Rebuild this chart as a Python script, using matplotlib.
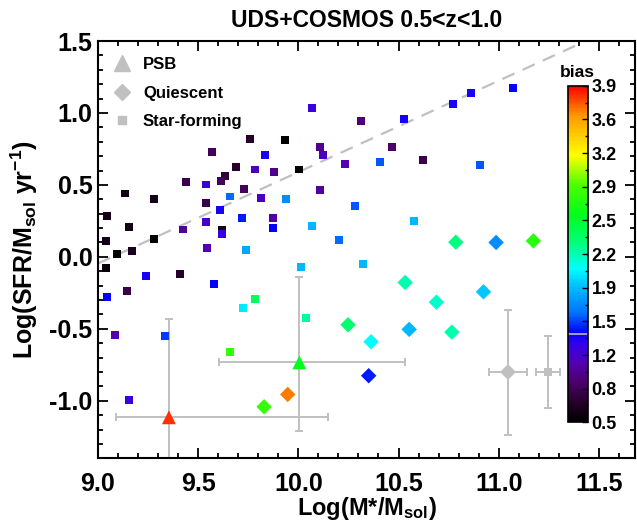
import numpy as np
import matplotlib
matplotlib.use('Agg')
import matplotlib.pyplot as plt
from matplotlib.colors import LinearSegmentedColormap, Normalize
from matplotlib.lines import Line2D
from matplotlib.ticker import MultipleLocator, FixedLocator

plt.rcParams['font.family'] = ['Liberation Sans', 'DejaVu Sans']
plt.rcParams['font.weight'] = 'bold'
plt.rcParams['mathtext.fontset'] = 'custom'
plt.rcParams['mathtext.rm'] = 'Liberation Sans:bold'
plt.rcParams['mathtext.default'] = 'rm'

# star-forming galaxies (squares)
sf_mass = [10.067, 9.759, 9.934, 10.108, 10.122, 9.567, 9.834, 9.689, 10.003, 9.784,
           9.879, 9.634, 9.614, 9.438, 9.538, 9.135, 9.280, 9.729, 10.108, 9.659,
           9.812, 9.939, 9.538, 9.609, 9.043, 9.717, 9.875, 10.067, 9.155, 9.538,
           9.426, 9.617, 9.617, 9.875, 9.040, 9.093, 9.168, 9.280, 9.040, 9.240,
           9.409, 9.543, 10.205, 9.739, 10.012, 9.578, 9.143, 9.043, 9.784, 9.725,
           10.038, 9.085, 9.336, 9.659, 9.155, 10.323, 10.313, 10.466, 10.233, 10.408,
           10.623, 10.528, 10.772, 10.862, 11.070, 10.906, 10.283, 10.578]
sf_sfr = [1.035, 0.817, 0.810, 0.764, 0.708, 0.729, 0.706, 0.625, 0.607, 0.607,
          0.590, 0.563, 0.528, 0.521, 0.503, 0.440, 0.405, 0.470, 0.463, 0.419,
          0.410, 0.405, 0.375, 0.324, 0.285, 0.271, 0.271, 0.215, 0.208, 0.243,
          0.190, 0.190, 0.160, 0.201, 0.111, 0.017, 0.042, 0.123, -0.076, -0.134,
          -0.118, 0.063, 0.116, 0.047, -0.069, -0.190, -0.236, -0.278, -0.294, -0.354,
          -0.424, -0.542, -0.549, -0.660, -0.995, -0.049, 0.944, 0.764, 0.646, 0.658,
          0.672, 0.956, 1.060, 1.139, 1.174, 0.637, 0.352, 0.250]
sf_bias = [1.25, 0.70, 0.55, 1.00, 1.15, 0.85, 1.35, 0.70, 0.50, 1.15,
           1.00, 0.75, 0.85, 0.80, 1.25, 0.60, 0.60, 0.85, 1.05, 1.60,
           1.15, 1.70, 0.80, 1.35, 0.60, 1.45, 1.05, 1.85, 0.60, 1.20,
           1.05, 0.60, 1.25, 1.40, 0.60, 0.50, 0.65, 0.50, 0.55, 1.35,
           0.70, 1.10, 1.60, 1.80, 1.85, 1.40, 0.80, 1.40, 2.40, 2.00,
           2.25, 1.10, 1.50, 2.80, 1.25, 1.85, 0.95, 0.90, 1.10, 1.55,
           0.80, 1.35, 1.35, 1.35, 1.40, 1.55, 1.55, 1.85]

# quiescent galaxies (diamonds)
q_mass = [9.829, 9.947, 10.786, 10.987, 11.173, 10.533, 10.689, 10.924, 10.248, 10.363, 10.553, 10.766, 10.351]
q_sfr = [-1.042, -0.956, 0.102, 0.100, 0.111, -0.178, -0.315, -0.243, -0.472, -0.590, -0.504, -0.523, -0.826]
q_bias = [2.80, 3.65, 2.30, 1.70, 2.75, 2.20, 2.15, 1.90, 2.35, 2.05, 1.85, 2.20, 1.45]

# post-starburst galaxies (triangles) with errors
psb_mass = [9.354, 10.005]
psb_sfr = [-1.115, -0.733]
psb_bias = [3.80, 2.60]
psb_xerr = [[0.264, 0.402], [0.796, 0.528]]
psb_yerr = [[0.682, 0.477], [0.682, 0.594]]

# typical uncertainties: quiescent, star-forming
typ_mass = [11.045, 11.245]
typ_sfr = [-0.803, -0.800]
typ_xerr = [0.094, 0.061]
typ_yerr = [0.434, 0.248]

# main-sequence line
ms_slope, ms_zero = 0.635, -0.046
ms_range = [9.0, 11.4]

bias_marker = 1.39

cmap_vals = [0.5, 0.7, 0.9, 1.1, 1.3, 1.4, 1.6, 1.9, 2.05, 2.3, 2.6, 2.9, 3.2, 3.6, 3.9]
cmap_cols = ['#000000', '#26002b', '#4c006b', '#5300b3', '#3000f0', '#0000ff', '#0070ff',
             '#00c8ff', '#00ffff', '#00ff80', '#00ff1a', '#4dff00', '#ffff00', '#ff9900', '#ff0000']
vmin, vmax = 0.5, 3.9
cmap = LinearSegmentedColormap.from_list(
    'rainbow_black', [((v - vmin) / (vmax - vmin), c) for v, c in zip(cmap_vals, cmap_cols)])
norm = Normalize(vmin, vmax)

grey = '#c0c0c0'

fig = plt.figure(figsize=(6.37, 5.21), dpi=100)
ax = fig.add_axes([0.1538, 0.1203, 0.843, 0.801])

xl = np.array(ms_range)
ax.plot(xl, ms_slope * (xl - 9.0) + ms_zero, color=grey, lw=1.6, dashes=(6, 4), zorder=1)

ax.scatter(sf_mass, sf_sfr, c=sf_bias, cmap=cmap, norm=norm, marker='s', s=32, linewidths=0, zorder=3)
ax.scatter(q_mass, q_sfr, c=q_bias, cmap=cmap, norm=norm, marker='D', s=62, linewidths=0, zorder=3)

ax.errorbar(psb_mass, psb_sfr, xerr=psb_xerr, yerr=psb_yerr, fmt='none', ecolor=grey,
            elinewidth=1.4, capsize=3, capthick=1.4, zorder=2)
ax.scatter(psb_mass, psb_sfr, c=psb_bias, cmap=cmap, norm=norm, marker='^', s=100, linewidths=0, zorder=4)

ax.errorbar(typ_mass, typ_sfr, xerr=typ_xerr, yerr=typ_yerr, fmt='none', ecolor=grey,
            elinewidth=1.4, capsize=3, capthick=1.4, zorder=2)
ax.plot(typ_mass[0], typ_sfr[0], 'D', color=grey, ms=8, mew=0, zorder=3)
ax.plot(typ_mass[1], typ_sfr[1], 's', color=grey, ms=5.5, mew=0, zorder=3)

ax.set_xlim(9.0, 11.68)
ax.set_ylim(-1.4, 1.5)
ax.xaxis.set_major_locator(MultipleLocator(0.5))
ax.xaxis.set_minor_locator(MultipleLocator(0.1))
ax.yaxis.set_major_locator(MultipleLocator(0.5))
ax.yaxis.set_minor_locator(MultipleLocator(0.1))
ax.xaxis.set_major_formatter(plt.FormatStrFormatter('%.1f'))
ax.yaxis.set_major_formatter(plt.FormatStrFormatter('%.1f'))
ax.tick_params(which='both', direction='in', top=True, right=True, width=1.3)
ax.tick_params(which='major', length=7, labelsize=18)
ax.tick_params(which='minor', length=3.5)
ax.tick_params(axis='x', which='major', pad=10)
ax.tick_params(axis='y', which='major', pad=4)
for sp in ax.spines.values():
    sp.set_linewidth(1.5)

ax.set_xlabel(r'Log(M*/M$_{sol}$)', fontsize=17, fontweight='bold')
ax.xaxis.set_label_coords(0.5, -0.088)
ax.set_ylabel(r'Log(SFR/M$_{sol}$ yr$^{-1}$)', fontsize=18, fontweight='bold')
ax.yaxis.set_label_coords(-0.108, 0.5)
ax.set_title('UDS+COSMOS 0.5<z<1.0', fontsize=16.5, fontweight='bold', pad=10)

handles = [Line2D([], [], marker='^', color=grey, ls='none', ms=11),
           Line2D([], [], marker='D', color=grey, ls='none', ms=8),
           Line2D([], [], marker='s', color=grey, ls='none', ms=5.5)]
ax.legend(handles, ['PSB', 'Quiescent', 'Star-forming'], loc='upper left', frameon=False,
          prop={'size': 12, 'weight': 'bold'}, handlelength=1.0, handletextpad=0.75,
          labelspacing=0.82, borderaxespad=0.3, borderpad=0.65)

cax = fig.add_axes([0.891, 0.1894, 0.0314, 0.646])
sm = plt.cm.ScalarMappable(norm=norm, cmap=cmap)
cb = fig.colorbar(sm, cax=cax)
cb.outline.set_linewidth(1.2)
ticks = np.linspace(vmin, vmax, 11)
cb.set_ticks(ticks)
cb.set_ticklabels(['%.1f' % t for t in ticks])
cax.yaxis.set_minor_locator(FixedLocator((ticks[:-1] + ticks[1:]) / 2))
cax.tick_params(which='both', direction='in', width=1, labelsize=13, pad=3)
cax.tick_params(which='major', length=4)
cax.tick_params(which='minor', length=2.5)
cax.axhline(bias_marker, color='#bbbbbb', lw=1.2)
cax.set_title('bias', fontsize=12.5, fontweight='bold', pad=6)

fig.savefig('out.png', dpi=100)
